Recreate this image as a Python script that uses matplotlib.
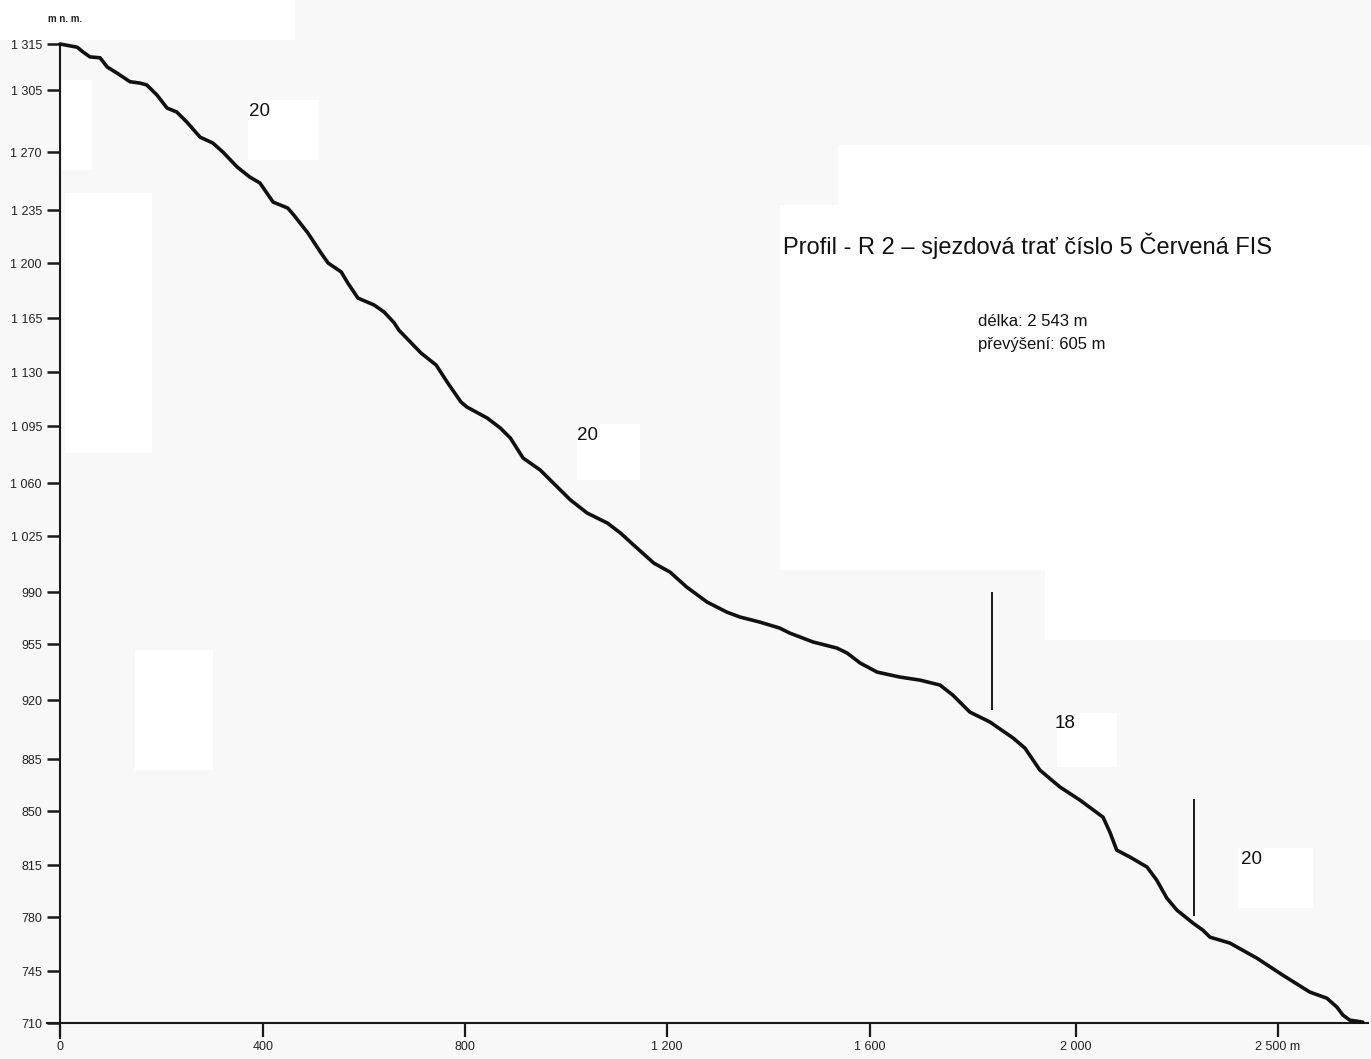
import numpy as np
import matplotlib
matplotlib.use('Agg')
import matplotlib.pyplot as plt
from matplotlib.patches import Rectangle

# longitudinal profile of the run: distance (m) and elevation (m n. m.)
distance = [0, 34, 45, 59, 79, 93, 112, 138, 158, 171, 191, 211, 230, 250,
            276, 301, 321, 349, 374, 394, 420, 449, 461, 489, 515, 529, 555,
            568, 588, 620, 640, 660, 669, 713, 743, 766, 792, 804, 844, 870,
            890, 915, 949, 975, 1009, 1042, 1082, 1108, 1134, 1174, 1206,
            1239, 1279, 1318, 1344, 1383, 1422, 1442, 1488, 1535, 1555, 1581,
            1614, 1658, 1697, 1736, 1761, 1794, 1833, 1878, 1901, 1930, 1969,
            2010, 2067, 2084, 2101, 2134, 2176, 2200, 2225, 2250, 2290, 2314,
            2332, 2381, 2448, 2512, 2579, 2621, 2646, 2661, 2678, 2710]
elevation = [1315.0, 1314.3, 1313.3, 1312.2, 1312.0, 1310.0, 1308.7, 1306.8,
             1306.5, 1306.1, 1302.2, 1294.8, 1292.6, 1286.9, 1278.4, 1275.1,
             1270.0, 1261.0, 1254.9, 1251.3, 1239.8, 1236.2, 1231.7, 1219.8,
             1206.6, 1200.0, 1194.3, 1187.3, 1177.7, 1173.3, 1168.8, 1161.8,
             1157.2, 1142.3, 1134.5, 1122.9, 1110.6, 1107.3, 1100.2, 1093.8,
             1087.6, 1075.4, 1068.0, 1060.0, 1048.8, 1040.2, 1033.6, 1027.0,
             1019.4, 1008.1, 1002.5, 993.1, 983.3, 976.5, 973.2, 969.8, 965.8,
             962.4, 956.4, 952.5, 949.4, 943.1, 937.5, 934.4, 932.5, 929.4,
             923.1, 912.9, 907.0, 897.5, 891.5, 877.6, 866.2, 857.4, 846.1,
             836.4, 824.7, 820.2, 813.7, 804.9, 792.8, 784.7, 776.1, 771.6,
             767.0, 763.2, 753.4, 742.3, 730.9, 726.8, 720.8, 715.4, 712.0,
             710.7]

x_ticks = [0, 400, 800, 1200, 1600, 2000, 2500]
x_tick_labels = ['0', '400', '800', '1 200', '1 600', '2 000', '2 500 m']
y_ticks = [710, 745, 780, 815, 850, 885, 920, 955, 990, 1025, 1060, 1095,
           1130, 1165, 1200, 1235, 1270, 1305, 1315]
y_tick_labels = ['710', '745', '780', '815', '850', '885', '920', '955',
                 '990', '1 025', '1 060', '1 095', '1 130', '1 165', '1 200',
                 '1 235', '1 270', '1 305', '1 315']

# boundaries between sections of different slope
section_x = [1837, 2292]
section_bottom = [914, 781]
section_top = [990, 858]
slope_labels = ['20', '20', '18', '20']

# the printed axes are hand-spaced, so each axis is stretched piecewise
# between its ticks (offsets in pixels from the origin)
x_tick_offsets = [0, 203, 405, 607, 810, 1016, 1218]
y_tick_offsets = [0, 52, 106, 158, 212, 264, 323, 379, 431, 487, 540, 597,
                  651, 705, 760, 813, 871, 933, 979]


def piecewise(xp, fp):
    xp = np.asarray(xp, float)
    fp = np.asarray(fp, float)

    def f(v):
        v = np.asarray(v, float)
        out = np.interp(v, xp, fp)
        lo_slope = (fp[1] - fp[0]) / (xp[1] - xp[0])
        hi_slope = (fp[-1] - fp[-2]) / (xp[-1] - xp[-2])
        out = np.where(v < xp[0], fp[0] + (v - xp[0]) * lo_slope, out)
        out = np.where(v > xp[-1], fp[-1] + (v - xp[-1]) * hi_slope, out)
        return out
    return f


FONT = ['Liberation Sans', 'DejaVu Sans']
INK = '#1a1a1a'
W, H = 1371, 1059

fig = plt.figure(figsize=(W / 100, H / 100), dpi=100, facecolor='#f8f8f8')


def box(x0, y0, x1, y1):
    fig.add_artist(Rectangle((x0 / W, 1 - y1 / H), (x1 - x0) / W, (y1 - y0) / H,
                             transform=fig.transFigure, facecolor='white',
                             edgecolor='none', zorder=-5))


# lighter patches of paper
box(0, 0, 295, 40)
box(838, 145, 1371, 205)
box(780, 205, 1371, 570)
box(1045, 570, 1371, 640)
box(62, 80, 92, 170)
box(65, 193, 152, 453)
box(135, 650, 213, 770)
box(248, 100, 318, 160)
box(577, 424, 640, 480)
box(1057, 713, 1117, 767)
box(1238, 848, 1313, 908)

ax = fig.add_axes([46.8 / W, 1 - 1038 / H, (1368 - 46.8) / W, (1038 - 44) / H])
ax.patch.set_alpha(0)
ax.set_xscale('function', functions=(piecewise(x_ticks, x_tick_offsets),
                                     piecewise(x_tick_offsets, x_ticks)))
ax.set_yscale('function', functions=(piecewise(y_ticks, y_tick_offsets),
                                     piecewise(y_tick_offsets, y_ticks)))
ax.set_xlim(-26, 2723)
ax.set_ylim(700, 1315)

ax.plot(distance, elevation, color='#111111', linewidth=2.6,
        solid_capstyle='round', solid_joinstyle='round', clip_on=False, zorder=3)
ax.vlines(section_x, section_bottom, section_top, color=INK, linewidth=1.4)

for side in ['top', 'right']:
    ax.spines[side].set_visible(False)
ax.spines['left'].set_position(('data', 0))
ax.spines['bottom'].set_position(('data', 710))
for side in ['left', 'bottom']:
    ax.spines[side].set_linewidth(1.5)
    ax.spines[side].set_color(INK)

ax.set_xticks(x_ticks, x_tick_labels)
ax.set_yticks(y_ticks, y_tick_labels)
ax.minorticks_off()
ax.tick_params(axis='y', direction='out', length=9.5, width=1.8, pad=3.5,
               color=INK, labelcolor='#222222', labelsize=9)
ax.tick_params(axis='x', direction='out', length=10, width=1.6, pad=2.5,
               color=INK, labelcolor='#222222', labelsize=9)
for lab in ax.get_xticklabels() + ax.get_yticklabels():
    lab.set_family(FONT)

fig.text(65 / W, 1 - 19 / H, 'm n. m.', family=FONT, fontsize=7,
         fontweight='bold', color='#222222', ha='center', va='center')

fig.text(783 / W, 1 - 246 / H,
         'Profil - R 2 \u2013 sjezdová trať číslo 5 Červená FIS',
         family=FONT, fontsize=17, color='#111111', ha='left', va='center')
fig.text(978 / W, 1 - 321 / H, 'délka: 2 543 m', family=FONT, fontsize=12,
         color='#111111', ha='left', va='center')
fig.text(978 / W, 1 - 345 / H, 'převýšení: 605 m', family=FONT, fontsize=12,
         color='#111111', ha='left', va='center')

slope_pos = [(259, 112), (587, 436), (1065, 724), (1251, 859)]
for text, (px, py) in zip(slope_labels, slope_pos):
    fig.text(px / W, 1 - py / H, text, family=FONT, fontsize=13.5,
             color='#111111', ha='center', va='center')

fig.savefig('out.png', dpi=100, facecolor=fig.get_facecolor())
